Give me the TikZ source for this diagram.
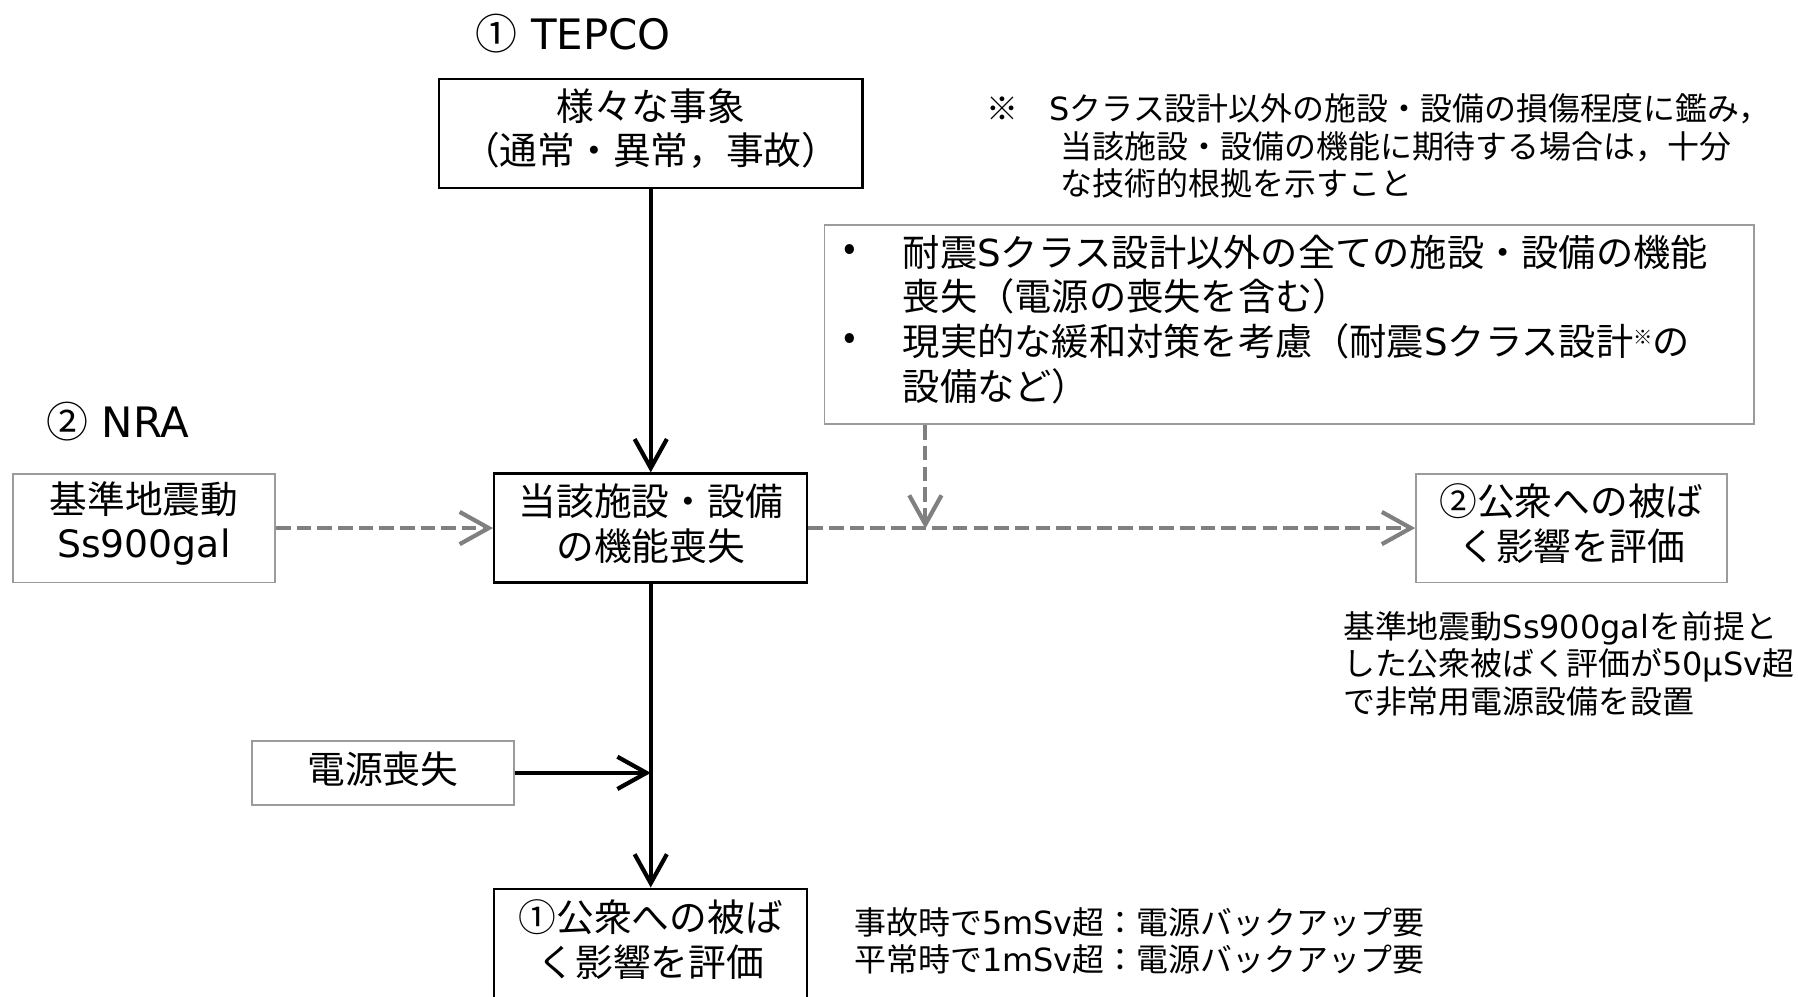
\documentclass[tikz,border=0pt]{standalone}
\usepackage{fontspec}
\setmainfont{Noto Sans CJK JP}
\newfontfamily\latf{DejaVu Sans}
\newcommand\lat[1]{{\latf #1}}
\newcommand\pxu{0.025cm}
\usetikzlibrary{arrows.meta}
\definecolor{agray}{RGB}{128,128,128}
\definecolor{bgray}{RGB}{155,155,155}
\begin{document}
\begin{tikzpicture}[x=0.025cm,y=-0.025cm,
  boxfont/.style={font=\fontsize{23.4}{27.7}\selectfont, align=center, inner sep=0pt},
  notefont/.style={font=\fontsize{19.8}{23.3}\selectfont, align=left, inner sep=0pt},
  mitfont/.style={font=\fontsize{23.1}{27.7}\selectfont, inner sep=0pt},
  headfont/.style={font=\fontsize{26}{30}\selectfont, inner sep=0pt},
  blackbox/.style={draw=black, line width=1.5pt, inner sep=0pt},
  graybox/.style={draw=bgray, line width=1.2pt, inner sep=0pt},
  barrow/.style={draw=black, line width=2.6pt, -{Straight Barb[length=18pt,width=20pt]}},
  garrow/.style={draw=agray, line width=2.6pt, dash pattern=on 9pt off 3.8pt, -{Straight Barb[length=18pt,width=20pt]}}
]
\useasboundingbox (0,0) rectangle (1568,869);
\fill[white] (0,0) rectangle (1568,869);

% headers
\node[headfont] (tepco) at (500,29) {①\lat{ TEPCO}};
\node[headfont] (nra) at (103,368) {②\lat{ NRA}};

% boxes
\node[blackbox, minimum width=369*\pxu, minimum height=95*\pxu] (ev) at (567.5,116.5) {};
\node[boxfont] (evt) at (567.5,112) {様々な事象\\（通常・異常，事故）};

\node[graybox, minimum width=229*\pxu, minimum height=95*\pxu] (kijun) at (125.5,460.5) {};
\node[boxfont] (kijunt) at (125.5,456.5) {基準地震動\\\lat{Ss900gal}};

\node[blackbox, minimum width=273*\pxu, minimum height=95*\pxu] (loss) at (567.5,460.5) {};
\node[boxfont] (losst) at (567.5,456.5) {当該施設・設備\\の機能喪失};

\node[graybox, minimum width=271*\pxu, minimum height=95*\pxu] (evtwo) at (1370.5,460.5) {};
\node[boxfont] (evtwot) at (1370.5,456.5) {②公衆への被ば\\く影響を評価};

\node[graybox, minimum width=228*\pxu, minimum height=56*\pxu] (dengen) at (334,674) {};
\node[boxfont] (dengent) at (334,671) {電源喪失};

\node[blackbox, anchor=north, minimum width=273*\pxu, minimum height=150*\pxu] (evone) at (567.5,774) {};
\node[boxfont] (evonet) at (567.5,819.5) {①公衆への被ば\\く影響を評価};

% mitigation box
\node[graybox, minimum width=811*\pxu, minimum height=174*\pxu] (mit) at (1124.5,283) {};
\node[mitfont, align=left, anchor=west] (mitt) at (787,278.5)
 {耐震\lat{S}クラス設計以外の全ての施設・設備の機能\\喪失（電源の喪失を含む）\\現実的な緩和対策を考慮（耐震\lat{S}クラス設計\raisebox{0.55ex}{\fontsize{12}{12}\selectfont ※}の\\設備など）};
\node[mitfont] (bulone) at (741,220) {•};
\node[mitfont] (bultwo) at (741,298) {•};

% notes
\node[notefont, anchor=west] (kome) at (860,95) {※};
\node[notefont, anchor=west] (noteone) at (915,127.5)
 {\lat{S}クラス設計以外の施設・設備の損傷程度に鑑み，\\\hspace{7pt}当該施設・設備の機能に期待する場合は，十分\\\hspace{7pt}な技術的根拠を示すこと};
\node[notefont, anchor=west] (notetwo) at (1171,579)
 {基準地震動\lat{Ss900gal}を前提と\\した公衆被ばく評価が\lat{50μSv}超\\で非常用電源設備を設置};
\node[notefont, anchor=west] (notethree) at (745,820.5)
 {事故時で\lat{5mSv}超：電源バックアップ要\\平常時で\lat{1mSv}超：電源バックアップ要};

% connectors
\draw[barrow] (ev.south) -- (loss.north);
\draw[barrow] (loss.south) -- (evone.north);
\coordinate (dj) at (567.5,674);
\draw[barrow] (dengen.east) -- (dj);
\draw[garrow] (kijun.east) -- (loss.west);
\draw[garrow] (loss.east) -- (evtwo.west);
\coordinate (mj) at (807,461);
\draw[garrow] (mit.south -| mj) -- (mj);
\end{tikzpicture}
\end{document}
